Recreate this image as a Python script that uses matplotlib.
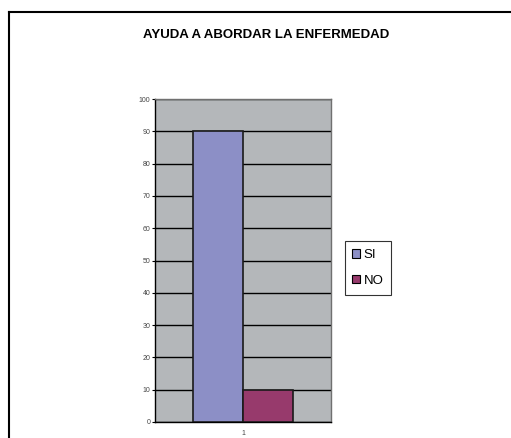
import matplotlib
matplotlib.use('Agg')
import matplotlib.pyplot as plt
from matplotlib.lines import Line2D

# --- data ---
categories = ['1']
series = ['SI', 'NO']
values = [90, 10]
colors = ['#8C8FC6', '#973A6C']
yticks = [0, 10, 20, 30, 40, 50, 60, 70, 80, 90, 100]
title = 'AYUDA A ABORDAR LA ENFERMEDAD'

plt.rcParams['font.family'] = ['Liberation Sans', 'DejaVu Sans']

fig = plt.figure(figsize=(5.11, 4.38), dpi=100)
fig.patch.set_facecolor('white')

W, H = 511, 438
# plot area in pixel coords: x 155..331, y 99..422
ax = fig.add_axes([155 / W, 1 - 422 / H, 176 / W, 323 / H])
ax.set_facecolor('#B4B7BA')

w = 0.57
for i, (name, v, c) in enumerate(zip(series, values, colors)):
    ax.bar(1 + (i - 0.5) * w, v, width=w, color=c, edgecolor='#1a1a1a',
           linewidth=1.2, label=name, zorder=3)

ax.set_xlim(0, 2)
ax.set_ylim(0, 100)
ax.set_yticks(yticks)
ax.set_yticklabels([str(t) for t in yticks], fontsize=5, color='#444444')
ax.set_xticks([1])
ax.set_xticklabels(categories, fontsize=5, color='#444444')
ax.tick_params(axis='y', length=2, width=0.8, pad=1.5)
ax.tick_params(axis='x', length=0, pad=6)
ax.yaxis.grid(True, color='black', linewidth=1.0, zorder=1)
ax.set_axisbelow(True)
for s in ['top', 'right']:
    ax.spines[s].set_color('#707070')
    ax.spines[s].set_linewidth(1.0)
for s in ['left', 'bottom']:
    ax.spines[s].set_color('black')
    ax.spines[s].set_linewidth(1.0)

fig.text(266 / W, 1 - 35 / H, title, ha='center', va='center',
         fontsize=9.5, fontweight='bold', fontstretch='condensed')

handles, labels = ax.get_legend_handles_labels()
leg = fig.legend(handles, labels, loc='center', bbox_to_anchor=(368 / W, 1 - 268 / H),
                 fontsize=9.5, frameon=True, fancybox=False, handlelength=0.6,
                 handleheight=0.6, handletextpad=0.25, labelspacing=1.05,
                 borderpad=0.6, borderaxespad=0)
leg.get_frame().set_edgecolor('black')
leg.get_frame().set_linewidth(0.8)
for p in leg.get_patches():
    p.set_edgecolor('black')
    p.set_linewidth(0.8)

# page frame: top and left border lines
fig.add_artist(Line2D([8.5 / W, 1.0], [1 - 11.5 / H, 1 - 11.5 / H],
                      transform=fig.transFigure, color='black', linewidth=1.5))
fig.add_artist(Line2D([8.5 / W, 8.5 / W], [0, 1 - 11.5 / H],
                      transform=fig.transFigure, color='black', linewidth=1.5))

fig.savefig('out.png', dpi=100)
